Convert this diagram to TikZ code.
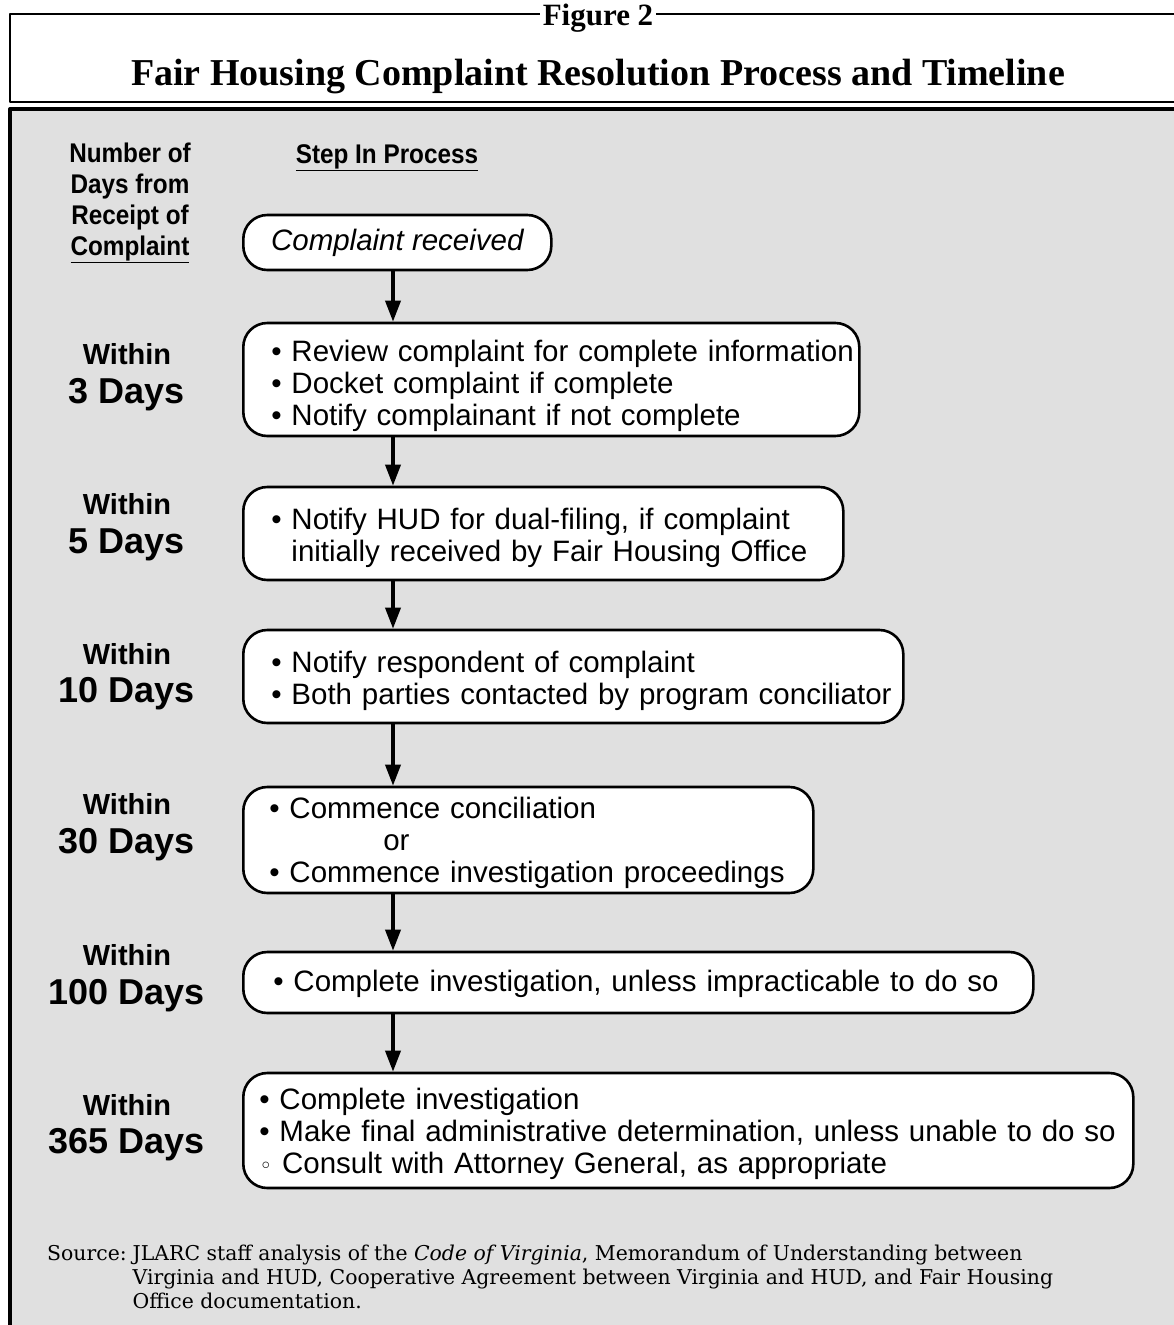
\documentclass[tikz,border=0pt]{standalone}
\usepackage{fontspec}
\setmainfont{Liberation Serif}
\newfontfamily\arialfont{Liberation Sans}
\newfontfamily\narrowfont[FakeStretch=0.9]{Liberation Sans}
\newfontfamily\srcfont{DejaVu Serif}
\newfontfamily\symfont{DejaVu Sans}
\usetikzlibrary{arrows.meta,positioning}
\newcommand\firstrow{\rule{0pt}{33pt}}
\begin{document}
\begin{tikzpicture}[x=1pt,y=-1pt,>={Triangle[length=21pt,width=15pt]},line join=round,
		stepbox/.style={draw,line width=2.6pt,rounded corners=24pt,fill=white,anchor=west,align=left,inner ysep=0pt,font=\arialfont\fontsize{29.5}{32}\selectfont},
		flow/.style={->,line width=3.6pt},
		within/.style={font=\arialfont\bfseries\fontsize{29}{32}\selectfont},
		days/.style={font=\arialfont\bfseries\fontsize{36}{40}\selectfont},
		colhead/.style={font=\narrowfont\bfseries\fontsize{27}{31}\selectfont,align=center}]
			\useasboundingbox (0,0) rectangle (1174,1325);
			\clip (0,0) rectangle (1174,1325);
			
			\fill[black!12] (10,109) rectangle (1200,1400);
			\draw[line width=4pt] (1200,109)--(10,109)--(10,1400);
			\draw[line width=1.8pt] (1200,14)--(10,14)--(10,102)--(1200,102);
			\node[fill=white,inner xsep=3pt,inner ysep=0pt,anchor=base,font=\bfseries\fontsize{31}{34}\selectfont] (fig) at (598,25) {Figure 2};
			\node[anchor=base,font=\bfseries\fontsize{38}{42}\selectfont] (title) at (598,85) {Fair Housing Complaint Resolution Process and Timeline};
			
			\node[colhead] (dayshead) at (130,203) {Number of\\Days from\\Receipt of\\\underline{Complaint}};
			\node[colhead] (stephead) at (387,158) {\underline{Step In Process}};
			
			\coordinate (spine) at (393,0);
			
			\node[stepbox,minimum width=308pt,minimum height=55pt,inner xsep=0pt,align=center,font=\arialfont\itshape\fontsize{29.5}{32}\selectfont] (s1) at (242,242.5) {Complaint received};
			\node[stepbox,minimum width=616pt,minimum height=113pt,text width=560pt,inner xsep=28pt] (s2) at (242,379.5) {\begin{tabular}{@{}l@{}}\rule{0pt}{37pt}\textbullet\ Review complaint for complete information\\\textbullet\ Docket complaint if complete\\\textbullet\ Notify complainant if not complete\end{tabular}};
			\node[stepbox,minimum width=600pt,minimum height=93pt,text width=544pt,inner xsep=28pt] (s3) at (242,533.5) {\begin{tabular}{@{}l@{}}\firstrow\textbullet\ Notify HUD for dual-filing, if complaint\\\phantom{\textbullet} initially received by Fair Housing Office\end{tabular}};
			\node[stepbox,minimum width=660pt,minimum height=93pt,text width=604pt,inner xsep=28pt] (s4) at (242,676.5) {\begin{tabular}{@{}l@{}}\firstrow\textbullet\ Notify respondent of complaint\\\textbullet\ Both parties contacted by program conciliator\end{tabular}};
			\node[stepbox,minimum width=570pt,minimum height=106pt,text width=518pt,inner xsep=26pt] (s5) at (242,840) {\begin{tabular}{@{}l@{}}\rule{0pt}{30pt}\textbullet\ Commence conciliation\\\hspace*{114pt}or\\\textbullet\ Commence investigation proceedings\end{tabular}};
			\node[stepbox,minimum width=790pt,minimum height=61pt,text width=730pt,inner xsep=30pt] (s6) at (242,982.5) {\begin{tabular}{@{}l@{}}\rule{0pt}{28pt}\textbullet\ Complete investigation, unless impracticable to do so\end{tabular}};
			\node[stepbox,minimum width=890pt,minimum height=115pt,text width=858pt,inner xsep=16pt] (s7) at (242,1130.5) {\begin{tabular}{@{}l@{}}\rule{0pt}{31pt}\textbullet\ Complete investigation\\\textbullet\ Make final administrative determination, unless unable to do so\\{\symfont\fontsize{22}{32}\selectfont ◦}\ Consult with Attorney General, as appropriate\end{tabular}};
			
			\draw[flow] (s1.south -| spine)--(s2.north -| spine);
			\draw[flow] (s2.south -| spine)--(s3.north -| spine);
			\draw[flow] (s3.south -| spine)--(s4.north -| spine);
			\draw[flow] (s4.south -| spine)--(s5.north -| spine);
			\draw[flow] (s5.south -| spine)--(s6.north -| spine);
			\draw[flow] (s6.south -| spine)--(s7.north -| spine);
			
			\node[within] (w3) at (127,354) {Within};
			\node[days] (d3) at (127,395) {3 Days};
			\node[within] (w5) at (127,504) {Within};
			\node[days] (d5) at (127,545) {5 Days};
			\node[within] (w10) at (127,654) {Within};
			\node[days] (d10) at (127,694) {10 Days};
			\node[within] (w30) at (127,804) {Within};
			\node[days] (d30) at (127,845) {30 Days};
			\node[within] (w100) at (127,955) {Within};
			\node[days] (d100) at (127,996) {100 Days};
			\node[within] (w365) at (127,1105) {Within};
			\node[days] (d365) at (127,1145) {365 Days};
			
			\node[anchor=base west,inner sep=0pt,font=\srcfont\fontsize{20.4}{24}\selectfont] (src) at (47,1260) {\begin{tabular}[t]{@{}l@{\hspace{6pt}}l@{}}Source: & JLARC staff analysis of the \textit{Code of Virginia}, Memorandum of Understanding between\\ & Virginia and HUD, Cooperative Agreement between Virginia and HUD, and Fair Housing\\ & Office documentation.\end{tabular}};
			
			\end{tikzpicture}
\end{document}
